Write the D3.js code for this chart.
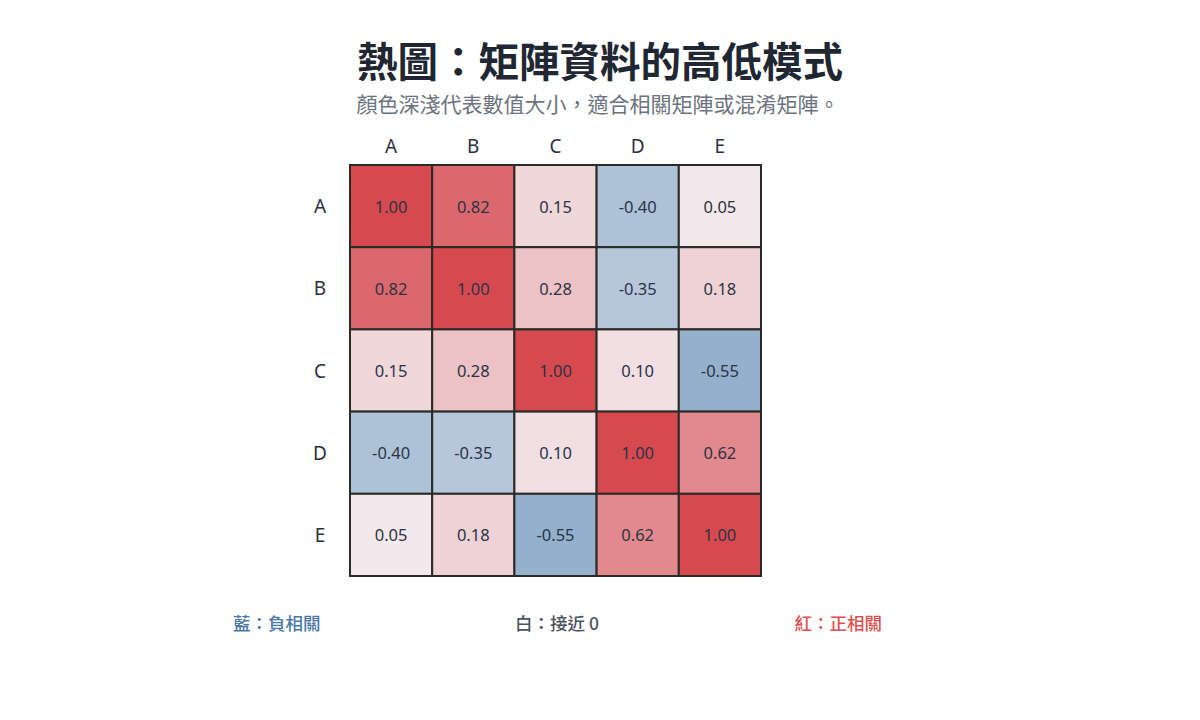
<!DOCTYPE html>
<html><head><meta charset="utf-8">
<script src="https://cdn.jsdelivr.net/npm/d3@7/dist/d3.min.js"></script>
<style>body{margin:0;background:#fff;}svg{display:block;font-family:"Noto Sans CJK TC","Noto Sans",sans-serif;}</style>
</head><body><svg id="c" width="1200" height="720"></svg>
<script>
const labels = ["A","B","C","D","E"];
const matrix = [
  [1.00, 0.82, 0.15, -0.40, 0.05],
  [0.82, 1.00, 0.28, -0.35, 0.18],
  [0.15, 0.28, 1.00, 0.10, -0.55],
  [-0.40, -0.35, 0.10, 1.00, 0.62],
  [0.05, 0.18, -0.55, 0.62, 1.00]
];
const legendTexts = ["藍：負相關","白：接近 0","紅：正相關"];

const svg = d3.select("#c");
svg.append("text").attr("x",600).attr("y",77).attr("text-anchor","middle")
  .attr("font-size",40.5).attr("font-weight",700).attr("fill","#1f2733").text("熱圖：矩陣資料的高低模式");
svg.append("text").attr("x",598).attr("y",112).attr("text-anchor","middle")
  .attr("font-size",21).attr("fill","#6b7380").text("顏色深淺代表數值大小，適合相關矩陣或混淆矩陣。");

const x = d3.scaleBand().domain(labels).range([350,761]);
const y = d3.scaleBand().domain(labels).range([165,576]);
const color = d3.scaleLinear().domain([-1,0,1]).range(["#457cad","#f4f0f3","#d64a4f"]);

const cells = [];
matrix.forEach((row,i)=>row.forEach((v,j)=>cells.push({r:labels[i],c:labels[j],v})));

const g = svg.append("g");
g.selectAll("rect").data(cells).join("rect")
  .attr("x",d=>x(d.c)).attr("y",d=>y(d.r))
  .attr("width",x.bandwidth()).attr("height",y.bandwidth())
  .attr("fill",d=>color(d.v)).attr("stroke","#2a2a26").attr("stroke-width",2);
g.selectAll("text").data(cells).join("text")
  .attr("x",d=>x(d.c)+x.bandwidth()/2).attr("y",d=>y(d.r)+y.bandwidth()/2)
  .attr("text-anchor","middle").attr("dominant-baseline","central")
  .attr("font-family","'Noto Sans',sans-serif")
  .attr("font-size",16.5).attr("fill","#2b3445").text(d=>d.v.toFixed(2));

svg.append("g").selectAll("text").data(labels).join("text")
  .attr("x",d=>x(d)+x.bandwidth()/2).attr("y",146).attr("text-anchor","middle")
  .attr("font-family","'Noto Sans',sans-serif")
  .attr("dominant-baseline","central").attr("font-size",19).attr("fill","#2b3040").text(d=>d);
svg.append("g").selectAll("text").data(labels).join("text")
  .attr("x",320).attr("y",d=>y(d)+y.bandwidth()/2).attr("text-anchor","middle")
  .attr("font-family","'Noto Sans',sans-serif")
  .attr("dominant-baseline","central").attr("font-size",19).attr("fill","#2b3040").text(d=>d);

const lg = [{t:legendTexts[0],x:233,a:"start",f:"#4a78a8"},{t:legendTexts[1],x:557,a:"middle",f:"#4b5260"},{t:legendTexts[2],x:882,a:"end",f:"#e0504f"}];
svg.append("g").selectAll("text").data(lg).join("text")
  .attr("x",d=>d.x).attr("y",622).attr("text-anchor",d=>d.a).attr("dominant-baseline","central")
  .attr("font-size",17.5).attr("font-weight",500).attr("fill",d=>d.f).text(d=>d.t);
</script></body></html>
